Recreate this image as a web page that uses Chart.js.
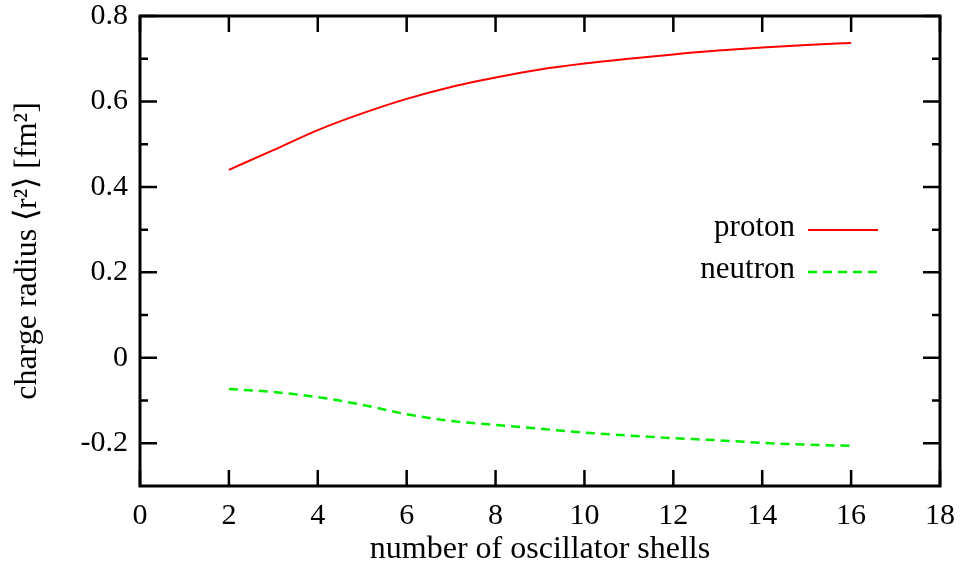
<!DOCTYPE html>
<html>
<head>
<meta charset="utf-8">
<script src="https://cdn.jsdelivr.net/npm/chart.js@4.4.0/dist/chart.umd.min.js"></script>
<style>
  html, body { margin: 0; padding: 0; background: #fff; }
  #wrap { width: 964px; height: 570px; }
</style>
</head>
<body>
<div id="wrap"><canvas id="chart" width="964" height="570"></canvas></div>
<script>
// values
const shells = [2, 3, 4, 5, 6, 7, 8, 9, 10, 11, 12, 13, 14, 15, 16]
const protonRadius = [0.440, 0.486, 0.533, 0.572, 0.606, 0.634, 0.656, 0.675, 0.689, 0.700, 0.710, 0.719, 0.726, 0.732, 0.737]
const neutronRadius = [-0.073, -0.080, -0.092, -0.110, -0.132, -0.148, -0.157, -0.166, -0.175, -0.182, -0.188, -0.193, -0.199, -0.203, -0.206]

const xTicks = [0, 2, 4, 6, 8, 10, 12, 14, 16, 18]
const yTicks = [-0.2, 0, 0.2, 0.4, 0.6, 0.8]
const yMinorTicks = [-0.1, 0.1, 0.3, 0.5, 0.7]

const fontFamily = "'Liberation Serif', 'Times New Roman', serif"
const tickSize = 30
const titleSize = 32

Chart.defaults.color = "#000"
Chart.defaults.font.family = fontFamily
Chart.defaults.font.size = tickSize

// frame, inward ticks on all four sides and the in-plot key
const framePlugin = {
  id: "frame",
  afterDatasetsDraw(chart) {
    const ctx = chart.ctx
    const { left, right, top, bottom } = chart.chartArea
    const xs = chart.scales.x
    const ys = chart.scales.y
    ctx.save()
    ctx.strokeStyle = "#000"
    ctx.lineWidth = 2.5
    ctx.beginPath()
    xTicks.forEach(v => {
      const px = xs.getPixelForValue(v)
      ctx.moveTo(px, bottom); ctx.lineTo(px, bottom - 16)
      ctx.moveTo(px, top); ctx.lineTo(px, top + 16)
    })
    yTicks.forEach(v => {
      const py = ys.getPixelForValue(v)
      ctx.moveTo(left, py); ctx.lineTo(left + 17, py)
      ctx.moveTo(right, py); ctx.lineTo(right - 17, py)
    })
    yMinorTicks.forEach(v => {
      const py = ys.getPixelForValue(v)
      ctx.moveTo(left, py); ctx.lineTo(left + 8, py)
      ctx.moveTo(right, py); ctx.lineTo(right - 8, py)
    })
    ctx.stroke()
    ctx.lineWidth = 3
    ctx.strokeRect(left, top, right - left, bottom - top)

    // key
    ctx.font = "31px " + fontFamily
    ctx.textAlign = "right"
    ctx.textBaseline = "middle"
    ctx.fillStyle = "#000"
    chart.data.datasets.forEach((ds, i) => {
      const y = 230 + i * 42
      ctx.fillText(ds.label, 795, y - 2)
      ctx.beginPath()
      ctx.strokeStyle = ds.borderColor
      ctx.lineWidth = ds.borderWidth
      ctx.setLineDash(ds.borderDash || [])
      ctx.moveTo(808, y)
      ctx.lineTo(878, y)
      ctx.stroke()
    })
    ctx.restore()
  }
}

const chart = new Chart(document.getElementById("chart"), {
  type: "line",
  data: {
    datasets: [
      {
        label: "proton",
        data: shells.map((s, i) => ({ x: s, y: protonRadius[i] })),
        borderColor: "#ff0000",
        borderWidth: 2,
        pointRadius: 0,
        cubicInterpolationMode: "monotone"
      },
      {
        label: "neutron",
        data: shells.map((s, i) => ({ x: s, y: neutronRadius[i] })),
        borderColor: "#00ee00",
        borderWidth: 2.5,
        borderDash: [9, 6],
        pointRadius: 0,
        cubicInterpolationMode: "monotone"
      }
    ]
  },
  options: {
    responsive: false,
    animation: false,
    layout: { padding: { left: 0, right: 24, top: 16, bottom: 0 } },
    plugins: { legend: { display: false }, tooltip: { enabled: false } },
    scales: {
      x: {
        type: "linear",
        min: 0,
        max: 18,
        afterBuildTicks: s => { s.ticks = xTicks.map(v => ({ value: v })) },
        afterFit: s => { s.height = 84; s.paddingLeft = 0; s.paddingRight = 0 },
        grid: { display: false, drawTicks: false },
        border: { display: false },
        ticks: { padding: 12, callback: v => String(v) },
        title: { display: true, text: "number of oscillator shells", font: { size: titleSize }, padding: { top: 0, bottom: 1 } }
      },
      y: {
        type: "linear",
        min: -0.3,
        max: 0.8,
        afterBuildTicks: s => { s.ticks = yTicks.map(v => ({ value: v })) },
        afterFit: s => { s.width = 140; s.paddingTop = 0; s.paddingBottom = 0 },
        grid: { display: false, drawTicks: false },
        border: { display: false },
        ticks: { padding: 12, callback: v => (Math.abs(v) < 1e-9 ? "0" : v.toFixed(1)) },
        title: { display: true, text: "charge radius \u27E8r\u00B2\u27E9 [fm\u00B2]", font: { size: titleSize }, padding: { top: 8, bottom: 0 } }
      }
    }
  },
  plugins: [framePlugin]
})
</script>
</body>
</html>
